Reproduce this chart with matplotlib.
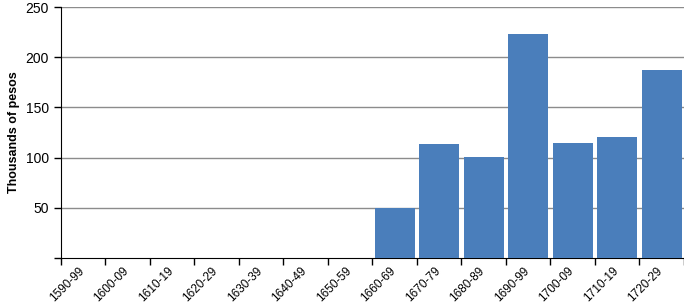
import numpy as np
import matplotlib
matplotlib.use("Agg")
import matplotlib.pyplot as plt
import matplotlib.transforms as mtransforms

plt.rcParams['font.family'] = ['Liberation Sans', 'DejaVu Sans']

# Decades and values (thousands of pesos)
decades = ["1590-99", "1600-09", "1610-19", "1620-29", "1630-39", "1640-49",
           "1650-59", "1660-69", "1670-79", "1680-89", "1690-99", "1700-09",
           "1710-19", "1720-29"]
values = [0, 0, 0, 0, 0, 0, 0, 50, 114, 101, 223, 115, 121, 187]
y_ticks = [50, 100, 150, 200, 250]

fig = plt.figure(figsize=(6.84, 3.08), dpi=100)
ax = fig.add_axes([0.089, 0.162, 0.911, 0.815])

x = np.arange(len(decades))
ax.bar(x, values, width=0.9, color="#4a7ebb", zorder=3)

ax.set_xlim(-0.5, len(decades) - 0.5)
ax.set_ylim(0, 250)
ax.set_yticks([0] + y_ticks)
ax.set_yticklabels([""] + [str(t) for t in y_ticks], fontsize=10)
for t in y_ticks:
    ax.axhline(t, color="#8c8c8c", linewidth=1, zorder=1)

ax.set_xticks(x)
ax.set_xticklabels(decades, rotation=45, ha="right", rotation_mode="anchor", fontsize=8.5)
ax.tick_params(axis="x", which="major", length=0, pad=5)
shift = mtransforms.ScaledTranslation(-5 / 100, 0, fig.dpi_scale_trans)
for lab in ax.get_xticklabels():
    lab.set_transform(lab.get_transform() + shift)
ax.set_xticks(np.arange(len(decades) + 1) - 0.5, minor=True)
ax.tick_params(axis="x", which="minor", length=5, width=1)
ax.tick_params(axis="y", length=5, width=1)

ax.spines["top"].set_visible(False)
ax.spines["right"].set_visible(False)
ax.set_ylabel("Thousands of pesos", fontsize=9, fontweight="bold")

fig.savefig("out.png", dpi=100)
